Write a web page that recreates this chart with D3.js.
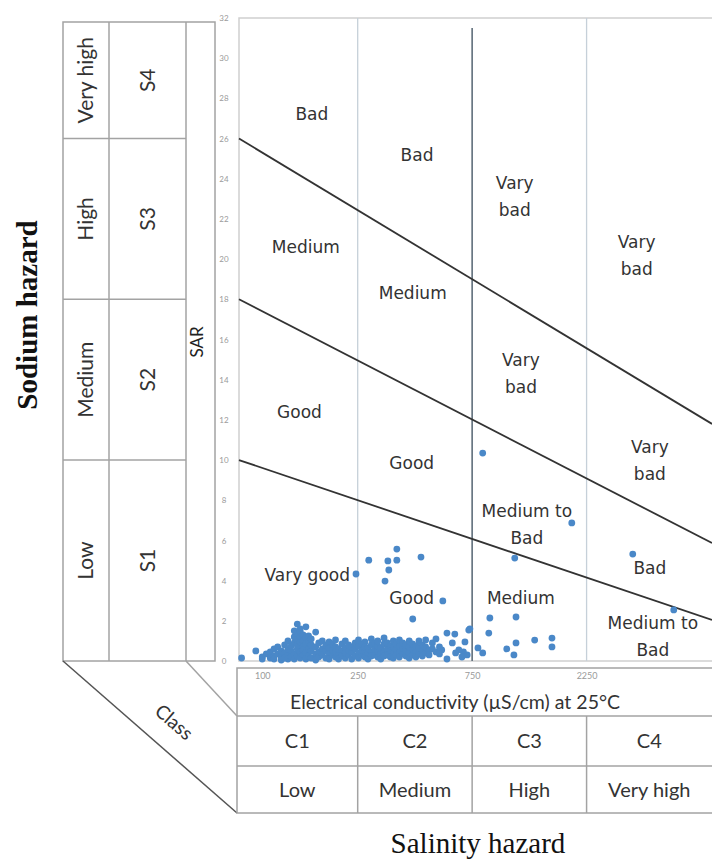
<!DOCTYPE html>
<html>
<head>
<meta charset="utf-8">
<script src="https://cdn.jsdelivr.net/npm/d3@7"></script>
<style>
  body { margin: 0; background: #fff; }
  svg { display: block; }
</style>
</head>
<body>
<div id="container"></div>
<script>
/* data */
var ecDomain = [80, 7500];
var sarDomain = [0, 32];
var sarTicks = [0, 2, 4, 6, 8, 10, 12, 14, 16, 18, 20, 22, 24, 26, 28, 30, 32];
var ecTicks = [100, 250, 750, 2250];

// sodium classes (SAR bands)
var sodiumClasses = ["S1", "S2", "S3", "S4"];
var sodiumLevels = ["Low", "Medium", "High", "Very high"];
var sodiumBreaks = [0, 10, 18, 26, 32];

// salinity classes (EC bands)
var salinityClasses = ["C1", "C2", "C3", "C4"];
var salinityLevels = ["Low", "Medium", "High", "Very high"];
var salinityBreaks = [80, 250, 750, 2250, 7500];

// sloping boundaries: SAR at left and right end of EC axis
var boundaryLines = [
  [26, 11.8],
  [18, 5.87],
  [10, 2.04]
];

// zone labels [EC, SAR, text lines]
var zoneLabels = [
  [161, 27.2, ["Bad"]],
  [442, 25.2, ["Bad"]],
  [152, 20.6, ["Medium"]],
  [1129, 23.1, ["Vary", "bad"]],
  [3640, 20.2, ["Vary", "bad"]],
  [424, 18.3, ["Medium"]],
  [143, 12.4, ["Good"]],
  [420, 9.85, ["Good"]],
  [1198, 14.3, ["Vary", "bad"]],
  [4130, 10.0, ["Vary", "bad"]],
  [1268, 6.77, ["Medium to", "Bad"]],
  [4130, 4.63, ["Bad"]],
  [1198, 3.13, ["Medium"]],
  [4250, 1.24, ["Medium to", "Bad"]],
  [154, 4.28, ["Vary good"]],
  [420, 3.13, ["Good"]]
];

// water samples [EC, SAR]
var samples = [
  [830, 10.35], [1952, 6.87], [1129, 5.12], [3505, 5.32], [5195, 2.54],
  [889, 2.14], [1143, 2.19], [880, 1.39], [1143, 0.9], [1046, 0.6],
  [1120, 0.3], [1367, 1.04], [1614, 1.14], [1614, 0.7], [734, 1.6],
  [793, 0.65], [830, 0.4], [726, 1.54], [700, 0.95], [690, 0.45],
  [715, 0.3],
  [246, 4.33], [278, 5.02], [364, 5.57], [364, 5.02], [334, 4.98],
  [337, 4.53], [325, 3.98], [459, 5.17], [566, 2.99], [424, 2.09],
  [589, 1.39], [635, 1.34], [589, 0.1], [620, 0.9], [660, 0.55],
  [560, 0.55], [640, 0.4], [680, 0.2],
  [82, 0.15], [94, 0.5],
  [100, 0.2], [100, 0.1], [104, 0.35], [108, 0.15], [108, 0.45],
  [112, 0.25], [112, 0.6], [112, 0.1], [116, 0.35], [116, 0.7],
  [120, 0.2], [120, 0.5], [120, 0.05], [124, 0.4], [124, 0.8], [124, 0.15],
  [128, 0.3], [128, 0.6], [128, 0.1], [128, 1.0], [132, 0.5], [132, 0.2], [132, 0.75],
  [136, 0.35], [136, 0.9], [136, 1.2], [136, 0.1], [136, 1.5],
  [140, 1.84], [140, 0.6], [140, 1.35], [140, 0.25], [140, 1.05], [140, 0.8],
  [144, 1.6], [144, 1.2], [144, 0.45], [144, 0.95], [144, 0.15], [144, 1.45],
  [148, 1.0], [148, 0.3], [148, 0.7], [148, 1.3], [148, 0.55],
  [152, 1.7], [152, 1.15], [152, 0.4], [152, 0.85], [152, 0.1],
  [156, 0.6], [156, 1.25], [156, 0.25], [156, 0.95],
  [160, 0.5], [160, 0.15], [160, 0.8], [160, 1.1],
  [167, 1.44], [167, 0.35], [167, 0.7], [167, 0.05],
  [172, 0.45], [172, 0.9], [172, 0.2],
  [178, 0.6], [178, 0.3], [178, 1.0],
  [184, 0.15], [184, 0.5], [184, 0.8],
  [190, 0.4], [190, 0.65], [190, 0.1], [190, 0.95],
  [196, 0.3], [196, 0.55], [196, 0.85],
  [202, 0.2], [202, 0.7], [202, 0.45], [202, 1.05],
  [208, 0.35], [208, 0.6], [208, 0.1],
  [215, 0.5], [215, 0.25], [215, 0.85],
  [222, 0.15], [222, 0.65], [222, 0.4], [222, 1.0],
  [229, 0.3], [229, 0.55], [229, 0.8],
  [236, 0.45], [236, 0.1], [236, 0.7],
  [244, 0.25], [244, 0.6], [244, 0.9],
  [252, 0.4], [252, 0.15], [252, 0.75], [252, 1.05],
  [260, 0.3], [260, 0.55], [260, 0.85],
  [268, 0.2], [268, 0.5], [268, 0.95], [268, 0.7],
  [276, 0.35], [276, 0.65], [276, 0.1],
  [285, 0.45], [285, 0.8], [285, 0.25], [285, 1.1],
  [294, 0.3], [294, 0.6], [294, 0.9],
  [303, 0.2], [303, 0.5], [303, 0.75], [303, 1.0],
  [312, 0.35], [312, 0.65], [312, 0.1],
  [322, 0.45], [322, 0.85], [322, 0.25], [322, 1.15],
  [332, 0.3], [332, 0.6], [332, 0.9],
  [342, 0.2], [342, 0.5], [342, 0.75],
  [352, 0.4], [352, 0.7], [352, 1.0], [352, 0.15],
  [362, 0.3], [362, 0.6], [362, 0.85],
  [373, 0.45], [373, 0.2], [373, 0.75], [373, 1.05],
  [385, 0.35], [385, 0.65], [385, 0.9],
  [397, 0.25], [397, 0.55], [397, 0.8],
  [410, 0.4], [410, 0.7], [410, 1.0], [410, 0.15],
  [423, 0.3], [423, 0.6], [423, 0.85],
  [437, 0.45], [437, 0.75], [437, 0.2],
  [450, 0.35], [450, 0.65], [450, 1.0],
  [465, 0.5], [465, 0.8], [465, 0.25],
  [480, 0.4], [480, 0.7], [480, 1.05],
  [496, 0.55], [496, 0.3], [512, 0.6], [512, 0.9],
  [530, 0.45], [530, 1.1], [548, 0.7], [548, 0.35]
];

/* layout */
var W = 712, H = 861;
var plot = { left: 239, top: 18, right: 712, bottom: 661 };
var tbl = { left: 63, mid: 109, right: 186, sar: 215, top: 22 };
var boxTop = 668, rowTop = 716, rowMid = 766, rowBottom = 813;
var gridCol = "#a3a3a3";
var labelFont = "Lato, 'Open Sans', sans-serif";

var svg = d3.select("#container").append("svg")
  .attr("width", W)
  .attr("height", H);

var x = d3.scaleLog().domain(ecDomain).range([plot.left, plot.right]);
var y = d3.scaleLinear().domain(sarDomain).range([plot.bottom, plot.top]);

// left table (sodium hazard)
var left = svg.append("g").attr("fill", "none").attr("stroke", gridCol).attr("stroke-width", 1.5);
left.append("rect")
  .attr("x", tbl.left).attr("y", tbl.top)
  .attr("width", tbl.sar - tbl.left).attr("height", plot.bottom - tbl.top);
[tbl.mid, tbl.right].forEach(function (cx) {
  left.append("line").attr("x1", cx).attr("x2", cx).attr("y1", tbl.top).attr("y2", plot.bottom);
});
sodiumBreaks.slice(1, -1).forEach(function (b) {
  left.append("line").attr("x1", tbl.left).attr("x2", tbl.right).attr("y1", y(b)).attr("y2", y(b));
});

var bands = sodiumClasses.map(function (c, i) {
  var yTop = i == sodiumClasses.length - 1 ? tbl.top : y(sodiumBreaks[i + 1]);
  return { cls: c, level: sodiumLevels[i], cy: (yTop + y(sodiumBreaks[i])) / 2 };
});

svg.selectAll(".lvl").data(bands).enter().append("text")
  .attr("transform", (d) => "translate(" + (tbl.left + tbl.mid) / 2 + "," + d.cy + ") rotate(-90)")
  .attr("text-anchor", "middle").attr("dy", "0.35em")
  .style("font", "21px " + labelFont).attr("fill", "#333")
  .text((d) => d.level);

svg.selectAll(".cls").data(bands).enter().append("text")
  .attr("transform", (d) => "translate(" + (tbl.mid + tbl.right) / 2 + "," + d.cy + ") rotate(-90)")
  .attr("text-anchor", "middle").attr("dy", "0.35em")
  .style("font", "21px " + labelFont).attr("fill", "#333")
  .text((d) => d.cls);

svg.append("text")
  .attr("transform", "translate(203,342) rotate(-90)")
  .attr("text-anchor", "middle")
  .style("font", "17px " + labelFont).attr("fill", "#222")
  .text("SAR");

// diagonals to bottom table
svg.append("line").attr("x1", tbl.left).attr("y1", plot.bottom).attr("x2", plot.left - 2).attr("y2", rowBottom)
  .attr("stroke", "#555").attr("stroke-width", 1.5);
svg.append("line").attr("x1", tbl.right).attr("y1", plot.bottom).attr("x2", plot.left - 2).attr("y2", rowTop)
  .attr("stroke", gridCol).attr("stroke-width", 1.5);

svg.append("text")
  .attr("transform", "translate(174,722) rotate(41)")
  .attr("text-anchor", "middle").attr("dy", "0.35em")
  .style("font", "19px " + labelFont).attr("fill", "#333")
  .text("Class");

// bottom table (salinity hazard)
var bottom = svg.append("g").attr("fill", "none").attr("stroke", gridCol).attr("stroke-width", 1.5);
bottom.append("rect")
  .attr("x", plot.left - 2).attr("y", boxTop)
  .attr("width", W).attr("height", rowBottom - boxTop);
[rowTop, rowMid].forEach(function (ry) {
  bottom.append("line").attr("x1", plot.left - 2).attr("x2", W).attr("y1", ry).attr("y2", ry);
});
salinityBreaks.slice(1, -1).forEach(function (b) {
  bottom.append("line").attr("x1", x(b)).attr("x2", x(b)).attr("y1", rowTop).attr("y2", rowBottom);
});

var cols = salinityClasses.map(function (c, i) {
  var x0 = i == 0 ? plot.left - 2 : x(salinityBreaks[i]);
  return { cls: c, level: salinityLevels[i], cx: (x0 + x(salinityBreaks[i + 1])) / 2 };
});

svg.selectAll(".ccls").data(cols).enter().append("text")
  .attr("x", (d) => d.cx).attr("y", (rowTop + rowMid) / 2)
  .attr("text-anchor", "middle").attr("dy", "0.35em")
  .style("font", "20px " + labelFont).attr("fill", "#333")
  .text((d) => d.cls);

svg.selectAll(".clvl").data(cols).enter().append("text")
  .attr("x", (d) => d.cx).attr("y", (rowMid + rowBottom) / 2)
  .attr("text-anchor", "middle").attr("dy", "0.35em")
  .style("font", "20px " + labelFont).attr("fill", "#333")
  .text((d) => d.level);

svg.append("text")
  .attr("x", 455).attr("y", 709)
  .attr("text-anchor", "middle")
  .style("font", "19.5px " + labelFont).attr("fill", "#333")
  .text("Electrical conductivity (\u00b5S/cm)  at 25\u00b0C");

// plot frame
svg.append("path")
  .attr("d", "M" + plot.right + "," + plot.top + "H" + plot.left + "V" + plot.bottom + "H" + plot.right)
  .attr("fill", "none").attr("stroke", "#d0d0d0").attr("stroke-width", 1.5);

// class boundaries on EC axis
svg.selectAll(".vline").data(salinityBreaks.slice(1, -1)).enter().append("line")
  .attr("x1", (d) => x(d)).attr("x2", (d) => x(d))
  .attr("y1", (d) => (d == 750 ? plot.top + 10 : plot.top)).attr("y2", plot.bottom)
  .attr("stroke", (d) => (d == 750 ? "#5f6e7b" : "#c6d0d9"))
  .attr("stroke-width", (d) => (d == 750 ? 1.6 : 1.3));

// sloping SAR boundaries
var line = d3.line().x((d) => x(d[0])).y((d) => y(d[1]));
svg.selectAll(".bline").data(boundaryLines).enter().append("path")
  .attr("d", (d) => line([[ecDomain[0], d[0]], [ecDomain[1], d[1]]]))
  .attr("fill", "none").attr("stroke", "#333").attr("stroke-width", 1.8);

// axes
var yAxis = svg.append("g")
  .attr("transform", "translate(224,0)")
  .call(d3.axisLeft(y).tickValues(sarTicks).tickSize(0).tickPadding(0));
yAxis.select(".domain").remove();
yAxis.selectAll("text").attr("text-anchor", "middle").attr("x", 0)
  .attr("fill", "#9a9a9a").style("font", "8px " + labelFont);

var xAxis = svg.append("g")
  .attr("transform", "translate(0,673)")
  .call(d3.axisBottom(x).tickValues(ecTicks).tickFormat(d3.format("d")).tickSize(0).tickPadding(0));
xAxis.select(".domain").remove();
xAxis.selectAll("text").attr("fill", "#9a9a9a").style("font", "9px " + labelFont);

// zone labels
var zl = svg.selectAll(".zone").data(zoneLabels).enter().append("text")
  .attr("text-anchor", "middle")
  .style("font", "17px 'DejaVu Sans', sans-serif").attr("fill", "#333");
zl.selectAll("tspan").data((d) => d[2].map((t, i) => ({ t: t, i: i, n: d[2].length, d: d })))
  .enter().append("tspan")
  .attr("x", (s) => x(s.d[0]))
  .attr("y", (s) => y(s.d[1]) + (s.i - (s.n - 1) / 2) * 27)
  .attr("dy", "0.35em")
  .text((s) => s.t);

// samples
svg.selectAll(".pt").data(samples).enter().append("circle")
  .attr("cx", (d) => x(d[0]))
  .attr("cy", (d) => y(d[1]))
  .attr("r", 3.4)
  .attr("fill", "#4a88c8");

// axis titles
svg.append("text")
  .attr("transform", "translate(37,315) rotate(-90)")
  .attr("text-anchor", "middle")
  .style("font", "bold 29px 'Liberation Serif', serif").attr("fill", "#111")
  .text("Sodium hazard");

svg.append("text")
  .attr("x", 478).attr("y", 853)
  .attr("text-anchor", "middle")
  .style("font", "29px 'Liberation Serif', serif").attr("fill", "#111")
  .text("Salinity  hazard");
</script>
</body>
</html>
